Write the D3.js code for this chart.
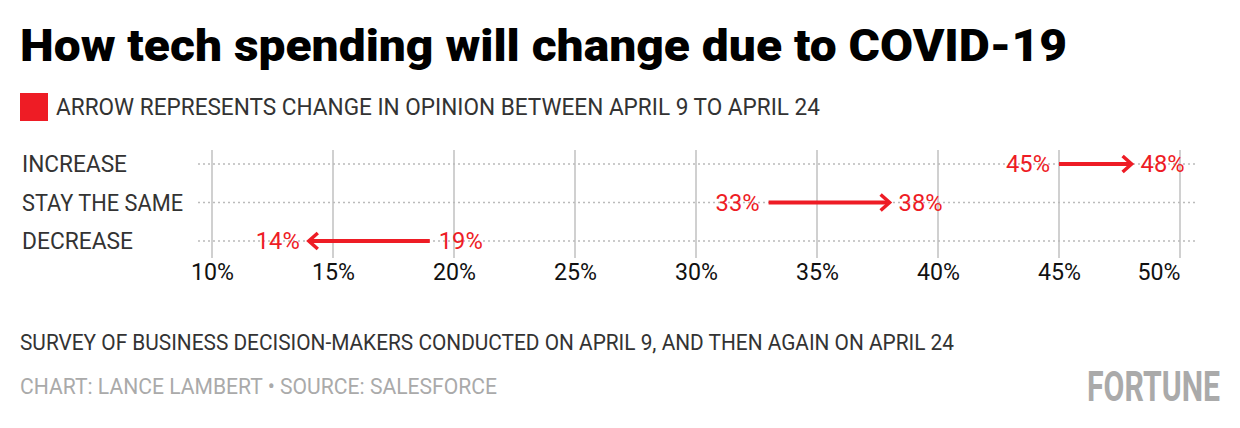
<!DOCTYPE html>
<html>
<head>
<meta charset="utf-8">
<script src="https://cdn.jsdelivr.net/npm/d3@7"></script>
<style>
  body { margin: 0; background: #fff; }
  text { font-family: Roboto, "Noto Sans", sans-serif; }
</style>
</head>
<body>
<svg id="chart" width="1240" height="428"></svg>
<script>
const categories = ["INCREASE", "STAY THE SAME", "DECREASE"];
const april9 = [45, 33, 19];
const april24 = [48, 38, 14];
const tickValues = [10, 15, 20, 25, 30, 35, 40, 45, 50];

const red = "#ee1c25";
const svg = d3.select("#chart");

const xScale = d3.scaleLinear().domain([10, 50]).range([212, 1180]);
const yScale = d3.scalePoint().domain(categories).range([164, 241]);

// fit text to a measured width (the original uses a condensed face)
const fit = (sel, w) => sel.attr("textLength", w).attr("lengthAdjust", "spacingAndGlyphs");

// Title
svg.append("text")
  .attr("x", 20).attr("y", 61)
  .attr("font-size", 44).attr("font-weight", 900)
  .attr("fill", "#000")
  .text("How tech spending will change due to COVID-19")
  .call(fit, 1047);

// Legend
svg.append("rect")
  .attr("x", 20).attr("y", 93).attr("width", 28).attr("height", 28)
  .attr("fill", red);
svg.append("text")
  .attr("x", 56).attr("y", 115)
  .attr("font-size", 24).attr("fill", "#333")
  .text("ARROW REPRESENTS CHANGE IN OPINION BETWEEN APRIL 9 TO APRIL 24")
  .call(fit, 764);

// Vertical gridlines
svg.append("g")
  .selectAll("line")
  .data(tickValues)
  .join("line")
    .attr("x1", d => xScale(d)).attr("x2", d => xScale(d))
    .attr("y1", 150).attr("y2", 258)
    .attr("stroke", "#d0d0d0").attr("stroke-width", 2);

// Dotted row lines
svg.append("g")
  .selectAll("line")
  .data(categories)
  .join("line")
    .attr("x1", 198).attr("x2", 1198)
    .attr("y1", d => yScale(d)).attr("y2", d => yScale(d))
    .attr("stroke", "#bbb").attr("stroke-width", 1.5)
    .attr("stroke-dasharray", "2,3");

// x-axis labels (last one sits flush left of its gridline)
const lastTick = tickValues[tickValues.length - 1];
const xAxis = d3.axisBottom(xScale)
  .tickValues(tickValues)
  .tickSize(0)
  .tickPadding(0)
  .tickFormat(d => d + "%");
svg.append("g")
  .attr("class", "axis-x")
  .attr("transform", "translate(0,264)")
  .call(xAxis)
  .call(g => g.select(".domain").remove())
  .selectAll("text")
    .attr("dy", "0.71em")
    .attr("font-size", 23)
    .attr("font-family", "Roboto, sans-serif")
    .attr("fill", "#111")
    .attr("text-anchor", d => d === lastTick ? "end" : "middle")
    .call(sel => fit(sel, 43));

// Category labels
const catWidths = [105, 161, 111];
svg.append("g")
  .selectAll("text")
  .data(categories)
  .join("text")
    .attr("x", 22)
    .attr("y", d => yScale(d) + 8)
    .attr("font-size", 23).attr("fill", "#333")
    .text(d => d)
    .each(function (d, i) { fit(d3.select(this), catWidths[i]); });

// Arrows
const rows = categories.map((c, i) => ({ cat: c, from: april9[i], to: april24[i] }));
const arrows = svg.append("g");

rows.forEach(r => {
  const y = yScale(r.cat);
  const x0 = xScale(r.from);
  const x1 = xScale(r.to);
  const dir = x1 > x0 ? 1 : -1;

  arrows.append("line")
    .attr("x1", x0).attr("x2", x1 - dir * 2)
    .attr("y1", y).attr("y2", y)
    .attr("stroke", red).attr("stroke-width", 4);

  arrows.append("path")
    .attr("d", `M${x1 - dir * 9},${y - 8}L${x1},${y}L${x1 - dir * 9},${y + 8}`)
    .attr("fill", "none")
    .attr("stroke", red).attr("stroke-width", 3.5);

  arrows.append("text")
    .attr("x", x0 - dir * 9)
    .attr("y", y + 8)
    .attr("text-anchor", dir > 0 ? "end" : "start")
    .attr("font-size", 23).attr("fill", red)
    .text(r.from + "%")
    .call(fit, 44);

  arrows.append("text")
    .attr("x", x1 + dir * 9)
    .attr("y", y + 8)
    .attr("text-anchor", dir > 0 ? "start" : "end")
    .attr("font-size", 23).attr("fill", red)
    .text(r.to + "%")
    .call(fit, 44);
});

// Footer
svg.append("text")
  .attr("x", 20).attr("y", 350)
  .attr("font-size", 22).attr("fill", "#333")
  .text("SURVEY OF BUSINESS DECISION-MAKERS CONDUCTED ON APRIL 9, AND THEN AGAIN ON APRIL 24")
  .call(fit, 934);

svg.append("text")
  .attr("x", 20).attr("y", 394)
  .attr("font-size", 22).attr("fill", "#aaa")
  .text("CHART: LANCE LAMBERT \u2022 SOURCE: SALESFORCE")
  .call(fit, 477);

// logo: small font stretched tall, like a condensed wordmark
svg.append("text")
  .attr("transform", "translate(1087,401) scale(1,1.5)")
  .attr("font-size", 28).attr("font-weight", 700).attr("fill", "#aaa")
  .text("FORTUNE")
  .call(fit, 133);
</script>
</body>
</html>
